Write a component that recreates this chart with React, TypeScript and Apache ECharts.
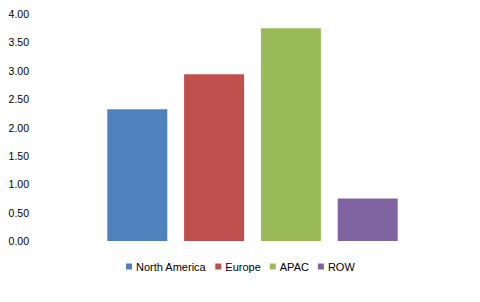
import React, { useEffect, useRef } from "react";
import * as echarts from "echarts";

const categories = [""];
const seriesNames = ["North America", "Europe", "APAC", "ROW"];
const seriesValues = [2.32, 2.94, 3.75, 0.75];
const seriesColors = ["#4F81BD", "#C0504D", "#9BBB59", "#8064A2"];

export default function App() {
  const ref = useRef<HTMLDivElement>(null);
  useEffect(() => {
    if (!ref.current) return;
    const chart = echarts.init(ref.current, null, { renderer: "svg" });
    chart.setOption({
      animation: false,
      backgroundColor: "#ffffff",
      textStyle: { fontFamily: "Liberation Sans" },
      grid: { left: 40, right: 15, top: 14, bottom: 61 },
      legend: {
        bottom: 25,
        left: 121,
        icon: "rect",
        itemWidth: 6,
        itemHeight: 6,
        itemGap: 9,
        textStyle: { fontSize: 11, color: "#000", padding: [0, 0, 0, -1] },
        data: seriesNames,
      },
      xAxis: {
        type: "category",
        data: categories,
        axisLine: { show: false },
        axisTick: { show: false },
        axisLabel: { show: false },
      },
      yAxis: {
        type: "value",
        min: 0,
        max: 4,
        interval: 0.5,
        axisLine: { show: false },
        axisTick: { show: false },
        splitLine: { show: false },
        axisLabel: {
          formatter: (v: number) => v.toFixed(2),
          fontSize: 10.5,
          color: "#000",
          margin: 11,
        },
      },
      series: seriesNames.map((name, i) => ({
        name,
        type: "bar",
        data: [seriesValues[i]],
        barWidth: 60,
        barGap: "28%",
        itemStyle: { color: seriesColors[i] },
      })),
    });
    return () => chart.dispose();
  }, []);
  return (
    <div
      ref={ref}
      style={{ position: "absolute", left: 0, top: 0, width: 480, height: 302 }}
    />
  );
}
